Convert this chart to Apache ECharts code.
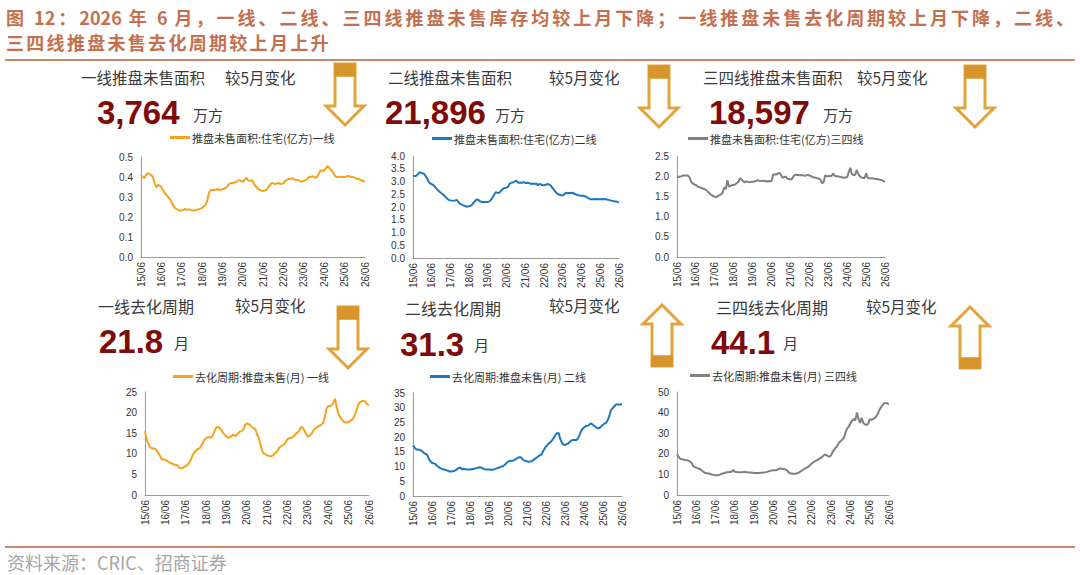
<!DOCTYPE html>
<html>
<head>
<meta charset="utf-8">
<script src="https://cdn.jsdelivr.net/npm/echarts@6/dist/echarts.min.js"></script>
<style>
  html, body { margin: 0; padding: 0; background: #fff; }
  #wrap { position: relative; width: 1080px; height: 575px; overflow: hidden;
          font-family: "Noto Sans CJK SC", "Noto Sans", sans-serif; }
  #chart { position: absolute; left: 0; top: 0; width: 1080px; height: 575px; }
  .t { position: absolute; white-space: nowrap; line-height: 1; color: #3a3a3a; }
  .title { position: absolute; left: 6px; font-size: 18px; font-weight: bold; color: #c46f4f; line-height: 1; }
  .rule { position: absolute; left: 5px; width: 1070px; height: 1.5px; background: #c98a6c; }
  .big { font-family: "Liberation Sans", Arial, sans-serif; font-weight: bold; font-size: 33px; color: #7f0a0a; }
  .unit { font-size: 15px; }
  .head { font-size: 15.5px; }
  .head2 { font-size: 16px; }
</style>
</head>
<body>
<div id="wrap">
  <div id="chart"></div>

  <div class="title" style="top:8px;width:1068px;text-align:justify;text-align-last:justify;">图 12：2026 年 6 月，一线、二线、三四线推盘未售库存均较上月下降；一线推盘未售去化周期较上月下降，二线、</div>
  <div class="title" style="top:33px;letter-spacing:2.3px;white-space:nowrap;">三四线推盘未售去化周期较上月上升</div>
  <div class="rule" style="top:59px;"></div>

  <div class="t head" style="left:81px;top:70px;">一线推盘未售面积</div>
  <div class="t head" style="left:225px;top:70px;">较5月变化</div>
  <div class="t big" style="left:97px;top:96px;">3,764</div>
  <div class="t unit" style="left:193px;top:107px;">万方</div>

  <div class="t head" style="left:388px;top:70px;">二线推盘未售面积</div>
  <div class="t head" style="left:549px;top:70px;">较5月变化</div>
  <div class="t big" style="left:385px;top:96px;">21,896</div>
  <div class="t unit" style="left:495px;top:107px;">万方</div>

  <div class="t head" style="left:703px;top:70px;">三四线推盘未售面积</div>
  <div class="t head" style="left:857px;top:70px;">较5月变化</div>
  <div class="t big" style="left:709px;top:96px;">18,597</div>
  <div class="t unit" style="left:823px;top:107px;">万方</div>

  <div class="t head2" style="left:98px;top:298px;">一线去化周期</div>
  <div class="t head" style="left:235px;top:298px;">较5月变化</div>
  <div class="t big" style="left:99px;top:325px;">21.8</div>
  <div class="t unit" style="left:174px;top:335px;">月</div>

  <div class="t head2" style="left:405px;top:300px;">二线去化周期</div>
  <div class="t head" style="left:549px;top:298px;">较5月变化</div>
  <div class="t big" style="left:400px;top:328px;">31.3</div>
  <div class="t unit" style="left:474px;top:337px;">月</div>

  <div class="t head2" style="left:716px;top:299px;">三四线去化周期</div>
  <div class="t head" style="left:866px;top:299px;">较5月变化</div>
  <div class="t big" style="left:711px;top:326px;">44.1</div>
  <div class="t unit" style="left:783px;top:335px;">月</div>

  <div class="rule" style="top:546px;"></div>
  <div class="t" style="left:7px;top:553px;font-size:18px;color:#a6a6a6;">资料来源：CRIC、招商证券</div>
</div>

<script>
// 推盘未售面积 (亿方), monthly 2015/06 - 2026/06
const areaTier1 = [
  0.41, 0.40, 0.395, 0.41, 0.42, 0.415, 0.41, 0.40, 0.37, 0.348, 0.36, 0.358,
  0.35, 0.335, 0.32, 0.31, 0.30, 0.29, 0.275, 0.255, 0.245, 0.24, 0.235, 0.232,
  0.232, 0.236, 0.24, 0.236, 0.238, 0.237, 0.233, 0.232, 0.234, 0.236, 0.238, 0.242,
  0.245, 0.252, 0.262, 0.28, 0.32, 0.335, 0.336, 0.335, 0.336, 0.34, 0.336, 0.335,
  0.34, 0.34, 0.348, 0.355, 0.365, 0.37, 0.37, 0.372, 0.375, 0.38, 0.385, 0.38,
  0.375, 0.385, 0.395, 0.385, 0.38, 0.385, 0.375, 0.36, 0.35, 0.34, 0.335, 0.332,
  0.33, 0.333, 0.335, 0.35, 0.36, 0.37, 0.368, 0.365, 0.367, 0.37, 0.366, 0.365,
  0.37, 0.38, 0.385, 0.39, 0.39, 0.395, 0.39, 0.385, 0.385, 0.383, 0.378, 0.378,
  0.38, 0.385, 0.39, 0.40, 0.40, 0.405, 0.40, 0.395, 0.405, 0.42, 0.435, 0.43,
  0.432, 0.445, 0.455, 0.445, 0.435, 0.425, 0.41, 0.40, 0.40, 0.402, 0.40, 0.40,
  0.40, 0.402, 0.405, 0.403, 0.40, 0.40, 0.395, 0.392, 0.39, 0.387, 0.384, 0.38, 0.376
];
const areaTier2 = [
  3.20, 3.22, 3.22, 3.28, 3.35, 3.35, 3.33, 3.30, 3.22, 3.12, 3.00, 2.92,
  2.90, 2.86, 2.80, 2.72, 2.66, 2.60, 2.55, 2.50, 2.45, 2.38, 2.32, 2.28,
  2.26, 2.25, 2.24, 2.26, 2.28, 2.20, 2.13, 2.10, 2.07, 2.05, 2.02, 2.02,
  2.03, 2.05, 2.10, 2.18, 2.25, 2.30, 2.27, 2.22, 2.20, 2.20, 2.19, 2.20,
  2.20, 2.22, 2.28, 2.38, 2.48, 2.58, 2.56, 2.55, 2.60, 2.68, 2.73, 2.75,
  2.76, 2.80, 2.92, 2.95, 2.96, 3.00, 3.04, 2.97, 2.95, 2.96, 2.95, 2.98,
  2.94, 2.95, 2.94, 2.93, 2.90, 2.92, 2.90, 2.93, 2.85, 2.90, 2.88, 2.86,
  2.85, 2.87, 2.90, 2.89, 2.86, 2.78, 2.70, 2.62, 2.55, 2.50, 2.48, 2.46,
  2.45, 2.50, 2.56, 2.54, 2.55, 2.55, 2.56, 2.53, 2.50, 2.48, 2.46, 2.45,
  2.44, 2.44, 2.42, 2.40, 2.36, 2.33, 2.30, 2.30, 2.31, 2.30, 2.31, 2.30,
  2.30, 2.31, 2.30, 2.31, 2.30, 2.28, 2.27, 2.25, 2.24, 2.22, 2.22, 2.20, 2.19
];
const areaTier3 = [
  2.00, 1.98, 1.99, 2.00, 2.02, 2.02, 2.02, 2.01, 1.97, 1.86, 1.82, 1.80,
  1.78, 1.75, 1.73, 1.72, 1.70, 1.69, 1.67, 1.64, 1.60, 1.56, 1.53, 1.51,
  1.49, 1.48, 1.51, 1.53, 1.55, 1.60, 1.72, 1.68, 1.90, 1.74, 1.76, 1.78,
  1.78, 1.80, 1.83, 1.86, 1.95, 1.92, 1.87, 1.85, 1.87, 1.86, 1.85, 1.86,
  1.86, 1.87, 1.88, 1.90, 1.89, 1.88, 1.89, 1.88, 1.88, 1.87, 1.88, 1.87,
  1.88, 2.04, 2.05, 2.04, 2.07, 2.08, 2.03, 1.96, 1.98, 1.99, 1.94, 1.93,
  1.92, 1.93, 2.00, 2.04, 2.03, 2.03, 2.02, 2.03, 2.02, 2.01, 2.02, 2.03,
  2.02, 2.00, 1.98, 1.97, 1.96, 1.95, 1.94, 1.92, 1.83, 1.85, 2.02, 2.00,
  2.00, 2.01, 2.00, 2.07, 2.01, 2.00, 2.00, 1.99, 1.98, 1.97, 1.96, 1.97,
  1.98, 2.10, 2.21, 2.05, 2.03, 2.03, 2.15, 2.06, 2.00, 1.97, 1.96, 1.95,
  2.07, 1.96, 1.95, 1.95, 1.94, 1.94, 1.93, 1.93, 1.92, 1.91, 1.90, 1.88, 1.86
];

// 去化周期 (月)
const cycleTier1 = [
  15.5, 13.5, 12.5, 11.5, 11.4, 11.3, 11.2, 10.7, 10.1, 9.4, 8.6, 8.6,
  8.5, 8.3, 8.0, 7.8, 7.6, 7.4, 7.3, 7.3, 6.6, 6.5, 6.5, 6.8,
  7.0, 7.3, 7.8, 8.5, 9.6, 10.3, 10.8, 11.2, 11.2, 11.8, 12.6, 13.4,
  13.8, 14.0, 14.0, 13.9, 14.5, 15.6, 16.4, 16.6, 16.2, 15.8, 15.1, 14.6,
  14.2, 13.9, 14.0, 14.3, 14.7, 14.3, 14.6, 15.0, 15.4, 15.5, 15.9, 17.0,
  17.4, 17.2, 16.9, 16.5, 16.2, 16.0, 14.8, 13.9, 12.3, 10.8, 10.1, 9.9,
  9.6, 9.5, 9.4, 9.5, 9.9, 10.3, 10.6, 11.4, 11.8, 12.0, 12.3, 12.9,
  13.5, 13.8, 13.9, 14.0, 14.4, 14.9, 15.2, 15.6, 16.5, 16.3, 15.6, 14.8,
  14.1, 14.4, 14.8, 15.5, 16.0, 16.4, 16.6, 16.9, 17.1, 17.5, 19.0, 21.0,
  21.6, 21.5, 21.8, 22.4, 23.4, 21.2, 19.8, 18.9, 18.3, 17.8, 17.6, 17.6,
  17.7, 18.0, 18.3, 18.8, 19.8, 21.0, 22.2, 22.6, 22.8, 22.9, 22.5, 22.0, 21.8
];
const cycleTier2 = [
  17.2, 16.4, 15.9, 15.7, 15.7, 15.5, 15.1, 14.6, 14.3, 13.9, 12.6, 11.8,
  11.3, 11.1, 10.9, 10.4, 9.9, 9.5, 9.3, 9.1, 8.9, 8.8, 8.6, 8.3,
  8.3, 8.4, 8.5, 8.8, 9.2, 9.5, 9.7, 9.0, 9.3, 9.1, 9.0, 9.0,
  9.0, 9.1, 9.2, 9.3, 9.5, 9.6, 9.8, 9.7, 9.4, 9.1, 9.0, 9.0,
  9.0, 8.9, 8.9, 9.0, 9.2, 9.4, 9.6, 9.8, 10.0, 10.2, 10.6, 11.2,
  11.6, 11.9, 12.0, 12.0, 12.2, 12.6, 12.9, 13.2, 13.2, 12.6, 12.1, 11.9,
  11.8, 11.6, 11.7, 11.9, 12.2, 12.6, 13.0, 13.4, 13.8, 14.0, 15.1, 16.0,
  16.8, 17.4, 18.0, 18.4, 19.1, 19.8, 20.8, 21.3, 21.4, 19.4, 18.1, 17.5,
  17.3, 17.6, 17.9, 18.3, 18.9, 19.0, 19.0, 19.0, 19.4, 20.5, 21.8, 22.8,
  23.3, 23.7, 23.9, 24.0, 24.6, 24.5, 24.0, 23.6, 23.2, 23.0, 23.2, 23.8,
  24.2, 24.6, 24.9, 25.8, 27.2, 29.2, 29.8, 30.4, 31.0, 31.2, 31.0, 31.1, 31.3
];
const cycleTier3 = [
  20.0, 18.6, 17.6, 17.3, 17.2, 17.0, 16.9, 16.7, 16.3, 15.7, 14.2, 13.6,
  13.3, 13.0, 12.7, 12.2, 11.5, 10.9, 10.6, 10.6, 10.4, 10.1, 9.9, 9.7,
  9.6, 9.6, 9.7, 10.0, 10.3, 10.6, 10.8, 11.0, 11.1, 11.3, 11.2, 12.2,
  11.3, 11.2, 11.1, 11.0, 11.0, 11.1, 11.3, 11.1, 11.0, 10.9, 10.9, 10.8,
  10.7, 10.7, 10.7, 10.7, 10.8, 10.8, 10.9, 11.0, 11.2, 11.5, 11.7, 11.9,
  12.0, 12.0, 12.1, 12.5, 13.0, 12.7, 12.6, 12.5, 12.2, 11.5, 10.7, 10.4,
  10.3, 10.3, 10.3, 10.6, 10.9, 11.5, 12.0, 12.5, 13.0, 13.4, 13.9, 14.6,
  15.4, 15.9, 16.4, 16.8, 17.3, 17.8, 18.3, 18.9, 19.7, 19.4, 18.9, 18.6,
  19.4, 21.0, 22.2, 23.1, 24.2, 25.6, 26.2, 27.0, 28.0, 30.5, 32.3, 33.3,
  34.8, 36.0, 37.0, 36.2, 40.0, 37.0, 35.0, 37.5, 35.0, 34.3, 34.0, 34.5,
  36.8, 36.5, 36.8, 37.2, 38.2, 39.3, 41.3, 42.6, 43.5, 44.6, 44.7, 44.4, 44.1
];

// month categories 15/06 ... 26/06
const months = [];
for (let i = 0; i < 133; i++) {
  const yy = 15 + Math.floor((5 + i) / 12);
  const mm = ((5 + i) % 12) + 1;
  months.push(yy + "/" + String(mm).padStart(2, "0"));
}

const seriesNames = [
  "推盘未售面积:住宅(亿方)一线",
  "推盘未售面积:住宅(亿方)二线",
  "推盘未售面积:住宅(亿方)三四线",
  "去化周期:推盘未售(月) 一线",
  "去化周期:推盘未售(月) 二线",
  "去化周期:推盘未售(月) 三四线",
];
const seriesData = [areaTier1, areaTier2, areaTier3, cycleTier1, cycleTier2, cycleTier3];
const yMax = [0.5, 4, 2.5, 25, 35, 50];
const yStep = [0.1, 0.5, 0.5, 5, 5, 10];
const yDecimals = [1, 1, 1, 0, 0, 0];

const colors = ["#f5a21e", "#1f78bb", "#808080", "#f5a21e", "#1f78bb", "#808080"];
const grids = [
  { left: 141, top: 157, width: 224, height: 100 },
  { left: 413, top: 156, width: 206, height: 102 },
  { left: 677, top: 156, width: 208, height: 101 },
  { left: 145, top: 392, width: 224, height: 103 },
  { left: 413, top: 393, width: 209, height: 103 },
  { left: 677, top: 392, width: 212, height: 103 },
];
const legendPos = [
  { left: 170, top: 132 }, { left: 432, top: 133 }, { left: 688, top: 133 },
  { left: 173, top: 371 }, { left: 430, top: 371 }, { left: 690, top: 370 },
];

function arrow(cx, top, dir) {
  const H = 61, head = 19, hw = 19, sw = 10, cap = dir === "down" ? 12 : 10;
  let pts, capRect;
  if (dir === "down") {
    pts = [[cx - sw, top], [cx + sw, top], [cx + sw, top + H - head], [cx + hw, top + H - head],
           [cx, top + H], [cx - hw, top + H - head], [cx - sw, top + H - head]];
    capRect = { x: cx - sw, y: top, width: sw * 2, height: cap };
  } else {
    pts = [[cx, top], [cx + hw, top + head], [cx + sw, top + head], [cx + sw, top + H],
           [cx - sw, top + H], [cx - sw, top + head], [cx - hw, top + head]];
    capRect = { x: cx - sw, y: top + H - cap, width: sw * 2, height: cap };
  }
  return [
    { type: "polygon", shape: { points: pts }, style: { fill: "#fff", stroke: "#e3a33b", lineWidth: 3, lineJoin: "miter" } },
    { type: "rect", shape: capRect, style: { fill: "#d8952c", stroke: "#d8952c", lineWidth: 1.5 } },
  ];
}

const chart = echarts.init(document.getElementById("chart"), null, { renderer: "svg" });
chart.setOption({
  animation: false,
  textStyle: { fontFamily: "Noto Sans CJK SC, Noto Sans, sans-serif" },
  grid: grids,
  legend: seriesNames.map((name, i) => ({
    data: [name],
    left: legendPos[i].left,
    top: legendPos[i].top,
    padding: 0,
    itemWidth: 20,
    itemHeight: 3,
    itemGap: 0,
    icon: "rect",
    selectedMode: false,
    textStyle: { fontSize: 11, color: "#333", padding: [0, 0, 0, -3] },
  })),
  xAxis: grids.map((g, i) => ({
    type: "category",
    gridIndex: i,
    data: months,
    boundaryGap: false,
    axisLine: { lineStyle: { color: "#9a9a9a", width: 1 } },
    axisTick: { show: false },
    axisLabel: {
      interval: 11,
      rotate: 90,
      fontSize: 10,
      color: "#333",
      margin: 5,
      fontFamily: "Liberation Sans, Arial, sans-serif",
    },
    splitLine: { show: false },
  })),
  yAxis: grids.map((g, i) => ({
    type: "value",
    gridIndex: i,
    min: 0,
    max: yMax[i],
    interval: yStep[i],
    axisLine: { show: true, lineStyle: { color: "#9a9a9a", width: 1 } },
    axisTick: { show: false },
    splitLine: { show: false },
    axisLabel: {
      fontSize: 10,
      color: "#333",
      margin: 8,
      fontFamily: "Liberation Sans, Arial, sans-serif",
      formatter: (v) => v.toFixed(yDecimals[i]),
    },
  })),
  series: seriesNames.map((name, i) => ({
    name,
    type: "line",
    xAxisIndex: i,
    yAxisIndex: i,
    data: seriesData[i],
    symbol: "none",
    color: colors[i],
    lineStyle: { width: 2, color: colors[i] },
  })),
  graphic: [
    ...arrow(345, 64, "down"),
    ...arrow(659, 66, "down"),
    ...arrow(975, 66, "down"),
    ...arrow(348, 307, "down"),
    ...arrow(662, 305, "up"),
    ...arrow(970, 307, "up"),
  ],
});
</script>
</body>
</html>
